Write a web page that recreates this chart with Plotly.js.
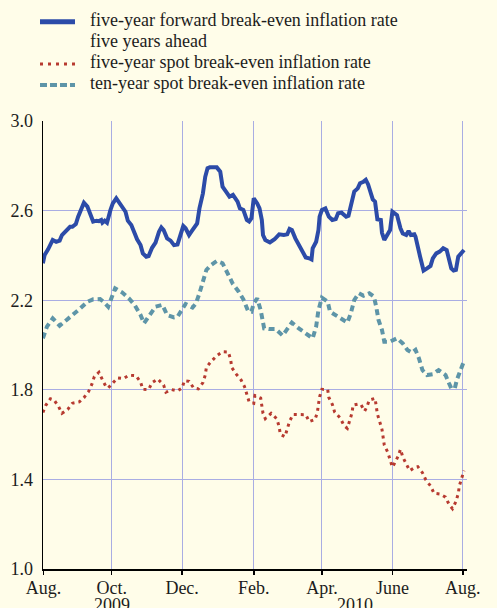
<!DOCTYPE html>
<html>
<head>
<meta charset="utf-8">
<script src="https://cdn.plot.ly/plotly-3.0.1.min.js"></script>
<style>
  html, body { margin: 0; padding: 0; background: #FFFDE9; }
  #chart { width: 497px; height: 608px; }
</style>
</head>
<body>
<div id="chart"></div>
<script>
// ---- series names ----
const seriesNames = [
  'five-year forward break-even inflation rate',
  'five years ahead',
  'five-year spot break-even inflation rate',
  'ten-year spot break-even inflation rate'
];

// ---- x-axis ticks ----
const tickDates = ['2009-08-03', '2009-10-01', '2009-12-01', '2010-02-01', '2010-04-01', '2010-06-01', '2010-08-01'];
const tickLabels = ['Aug.', 'Oct.', 'Dec.', 'Feb.', 'Apr.', 'June', 'Aug.'];
const yearDates = ['2009-10-01', '2010-04-30'];
const yearLabels = ['2009', '2010'];

// ---- y-axis ticks ----
const yTickVals = [1.0, 1.4, 1.8, 2.2, 2.6, 3.0];
const yTickText = ['1.0', '1.4', '1.8', '2.2', '2.6', '3.0'];

// ---- five-year forward five years ahead ----
const fwdDates = [
  '2009-08-02 12:00','2009-08-04','2009-08-07','2009-08-11','2009-08-14','2009-08-17','2009-08-19','2009-08-23','2009-08-26','2009-08-28','2009-08-31',
  '2009-09-02','2009-09-04','2009-09-07','2009-09-10','2009-09-12','2009-09-15','2009-09-18','2009-09-20','2009-09-22','2009-09-23','2009-09-25','2009-09-27','2009-09-30',
  '2009-10-02','2009-10-05','2009-10-07','2009-10-10','2009-10-13','2009-10-15','2009-10-18','2009-10-21','2009-10-23','2009-10-26','2009-10-28','2009-10-31',
  '2009-11-02','2009-11-05','2009-11-08','2009-11-11','2009-11-13','2009-11-15','2009-11-18','2009-11-21','2009-11-24','2009-11-27','2009-11-29',
  '2009-12-02','2009-12-04','2009-12-07','2009-12-09','2009-12-12','2009-12-14','2009-12-16','2009-12-19','2009-12-21','2009-12-23','2009-12-25','2009-12-28','2009-12-31',
  '2010-01-03','2010-01-05','2010-01-08','2010-01-11','2010-01-14','2010-01-18','2010-01-20','2010-01-23','2010-01-26','2010-01-28','2010-01-30',
  '2010-02-01','2010-02-04','2010-02-06','2010-02-08','2010-02-09','2010-02-11','2010-02-15','2010-02-19','2010-02-23','2010-02-27',
  '2010-03-02','2010-03-04','2010-03-06','2010-03-09','2010-03-13','2010-03-16','2010-03-18','2010-03-21','2010-03-23','2010-03-24','2010-03-27','2010-03-29','2010-03-30',
  '2010-04-01','2010-04-04','2010-04-07','2010-04-10','2010-04-13','2010-04-15','2010-04-18','2010-04-20','2010-04-22','2010-04-24','2010-04-27','2010-04-29',
  '2010-05-02','2010-05-04','2010-05-07','2010-05-09','2010-05-11','2010-05-13','2010-05-15','2010-05-17','2010-05-19','2010-05-22','2010-05-23','2010-05-25','2010-05-28','2010-05-30',
  '2010-06-01','2010-06-03','2010-06-05','2010-06-08','2010-06-10','2010-06-13','2010-06-15','2010-06-17','2010-06-20','2010-06-21','2010-06-23','2010-06-25','2010-06-27','2010-06-28',
  '2010-07-01','2010-07-04','2010-07-06','2010-07-09','2010-07-12','2010-07-15','2010-07-18','2010-07-20','2010-07-22','2010-07-24','2010-07-26','2010-07-28','2010-07-30',
  '2010-08-02'
];
const fwdVals = [
  2.365,2.402,2.427,2.469,2.461,2.466,2.491,2.513,2.528,2.528,2.540,
  2.573,2.595,2.635,2.618,2.595,2.551,2.555,2.553,2.558,2.546,2.555,2.546,2.603,
  2.632,2.655,2.640,2.618,2.595,2.555,2.536,2.498,2.472,2.446,2.409,2.394,
  2.397,2.434,2.457,2.506,2.525,2.513,2.476,2.466,2.446,2.449,2.484,
  2.531,2.521,2.491,2.506,2.525,2.543,2.610,2.677,2.751,2.789,2.793,2.792,2.793,
  2.774,2.707,2.685,2.662,2.670,2.640,2.610,2.603,2.558,2.551,2.566,
  2.655,2.632,2.610,2.558,2.491,2.469,2.458,2.472,2.494,2.491,
  2.494,2.518,2.513,2.476,2.439,2.417,2.391,2.387,2.382,2.432,2.461,2.513,2.573,
  2.603,2.610,2.573,2.558,2.562,2.588,2.591,2.580,2.573,2.577,2.647,2.685,
  2.699,2.722,2.729,2.737,2.717,2.685,2.650,2.640,2.561,2.558,2.501,2.469,2.491,2.513,
  2.595,2.585,2.580,2.521,2.498,2.491,2.509,2.491,2.494,2.484,2.427,2.394,2.353,2.332,
  2.342,2.353,2.387,2.409,2.417,2.432,2.424,2.379,2.342,2.332,2.335,2.394,2.406,
  2.424
];

// ---- five-year spot ----
const spot5Dates = [
  '2009-08-02 12:00','2009-08-05','2009-08-09','2009-08-12','2009-08-16','2009-08-19','2009-08-24','2009-08-28',
  '2009-09-03','2009-09-07','2009-09-11','2009-09-14','2009-09-16','2009-09-20','2009-09-23','2009-09-26','2009-09-28',
  '2009-10-03','2009-10-06','2009-10-11','2009-10-16','2009-10-22','2009-10-26','2009-10-28',
  '2009-11-02','2009-11-05','2009-11-10','2009-11-15','2009-11-17','2009-11-22','2009-11-27',
  '2009-12-01','2009-12-03','2009-12-07','2009-12-11','2009-12-15','2009-12-19','2009-12-21','2009-12-22','2009-12-26','2009-12-31',
  '2010-01-05','2010-01-10','2010-01-12','2010-01-13','2010-01-17','2010-01-21','2010-01-24','2010-01-26','2010-01-28',
  '2010-02-01','2010-02-02','2010-02-07','2010-02-08','2010-02-09','2010-02-11','2010-02-16','2010-02-21','2010-02-23','2010-02-24','2010-02-28',
  '2010-03-02','2010-03-04','2010-03-07','2010-03-13','2010-03-18','2010-03-21','2010-03-26','2010-03-28','2010-03-29','2010-03-30',
  '2010-04-01','2010-04-06','2010-04-07','2010-04-10','2010-04-12','2010-04-17','2010-04-20','2010-04-23','2010-04-25','2010-04-27','2010-04-28',
  '2010-05-03','2010-05-05','2010-05-08','2010-05-10','2010-05-12','2010-05-17','2010-05-18','2010-05-19','2010-05-21','2010-05-23','2010-05-24','2010-05-25','2010-05-28','2010-05-30',
  '2010-06-01','2010-06-03','2010-06-06','2010-06-08','2010-06-10','2010-06-13','2010-06-16','2010-06-20','2010-06-23','2010-06-27','2010-06-30',
  '2010-07-04','2010-07-07','2010-07-12','2010-07-17','2010-07-20','2010-07-23','2010-07-26','2010-07-28','2010-07-29','2010-07-31',
  '2010-08-02'
];
const spot5Vals = [
  1.699,1.731,1.760,1.756,1.726,1.695,1.713,1.740,
  1.746,1.765,1.792,1.826,1.859,1.878,1.845,1.815,1.808,
  1.835,1.853,1.850,1.865,1.863,1.835,1.802,
  1.801,1.832,1.848,1.821,1.789,1.801,1.795,
  1.808,1.841,1.838,1.808,1.804,1.832,1.865,1.900,1.926,1.952,
  1.970,1.969,1.934,1.899,1.869,1.844,1.814,1.780,1.746,
  1.740,1.774,1.763,1.729,1.695,1.671,1.695,1.670,1.635,1.601,1.591,
  1.625,1.659,1.690,1.690,1.689,1.658,1.667,1.698,1.732,1.769,
  1.802,1.801,1.766,1.735,1.701,1.673,1.641,1.628,1.662,1.696,1.732,
  1.737,1.732,1.705,1.725,1.754,1.762,1.728,1.692,1.658,1.623,1.588,1.553,1.521,1.491,
  1.455,1.473,1.504,1.534,1.500,1.469,1.439,1.452,1.457,1.430,1.397,
  1.371,1.338,1.335,1.321,1.289,1.269,1.301,1.336,1.372,1.406,
  1.439
];

// ---- ten-year spot ----
const spot10Dates = [
  '2009-08-02 12:00','2009-08-06','2009-08-11','2009-08-17','2009-08-23','2009-08-29',
  '2009-09-04','2009-09-10','2009-09-15','2009-09-21','2009-09-24','2009-09-28',
  '2009-10-01','2009-10-04','2009-10-10','2009-10-16','2009-10-21','2009-10-26','2009-10-29',
  '2009-11-03','2009-11-08','2009-11-14','2009-11-18','2009-11-24','2009-11-27',
  '2009-12-01','2009-12-04','2009-12-10','2009-12-13','2009-12-16','2009-12-19','2009-12-22','2009-12-26','2009-12-31',
  '2010-01-05','2010-01-09','2010-01-14','2010-01-19','2010-01-23','2010-01-27','2010-01-30',
  '2010-02-01','2010-02-04','2010-02-07','2010-02-10','2010-02-14','2010-02-20','2010-02-26',
  '2010-03-02','2010-03-06','2010-03-12','2010-03-18','2010-03-24','2010-03-27','2010-03-29',
  '2010-04-01','2010-04-06','2010-04-08','2010-04-13','2010-04-17','2010-04-23','2010-04-26','2010-04-29',
  '2010-05-03','2010-05-07','2010-05-12','2010-05-16','2010-05-18','2010-05-20','2010-05-23','2010-05-25','2010-05-30',
  '2010-06-05','2010-06-10','2010-06-14','2010-06-18','2010-06-21','2010-06-24','2010-06-27',
  '2010-07-01','2010-07-06','2010-07-11','2010-07-17','2010-07-20','2010-07-22','2010-07-25','2010-07-27','2010-07-30',
  '2010-08-02'
];
const spot10Vals = [
  2.030,2.082,2.119,2.086,2.112,2.137,
  2.164,2.193,2.204,2.205,2.193,2.171,
  2.216,2.253,2.235,2.208,2.178,2.134,2.097,
  2.134,2.171,2.179,2.134,2.123,2.126,
  2.159,2.183,2.167,2.186,2.231,2.283,2.335,2.357,2.375,
  2.365,2.320,2.272,2.238,2.204,2.153,2.149,
  2.186,2.208,2.156,2.074,2.071,2.071,2.042,
  2.074,2.100,2.074,2.052,2.030,2.082,2.156,
  2.211,2.193,2.149,2.131,2.119,2.100,2.141,2.201,
  2.231,2.220,2.231,2.216,2.171,2.112,2.067,2.015,2.015,
  2.030,2.007,1.978,1.966,1.978,1.940,1.888,
  1.866,1.870,1.888,1.866,1.829,1.807,1.807,1.847,1.888,
  1.928
];

const BG = '#FFFDE9';
const GRID = '#A9ADE3';
const BLUE = '#2C4BA8';
const RED = '#B73A30';
const TEAL = '#5E95A8';
const FONT = 'Liberation Serif, Times New Roman, serif';
const TXT = '#1c1c1c';

const traces = [
  { x: spot10Dates, y: spot10Vals, type: 'scatter', mode: 'lines', name: seriesNames[3],
    line: { color: TEAL, width: 4, dash: '6px,4px' }, showlegend: false, hoverinfo: 'skip' },
  { x: spot5Dates, y: spot5Vals, type: 'scatter', mode: 'lines', name: seriesNames[2],
    line: { color: RED, width: 3, dash: '3px,4px' }, showlegend: false, hoverinfo: 'skip' },
  { x: fwdDates, y: fwdVals, type: 'scatter', mode: 'lines', name: seriesNames[0],
    line: { color: BLUE, width: 4 }, showlegend: false, hoverinfo: 'skip' }
];

// plot area: x 43..467 px, y 121..569 px
const L = 43, R = 467, T = 121, B = 569;
const px = v => (v - L) / (R - L);
const py = v => (B - v) / (B - T);

const legendShapes = [
  { type: 'line', xref: 'paper', yref: 'paper', x0: px(40), x1: px(75), y0: py(21.7), y1: py(21.7),
    line: { color: BLUE, width: 5 } },
  { type: 'line', xref: 'paper', yref: 'paper', x0: px(40), x1: px(76), y0: py(64), y1: py(64),
    line: { color: RED, width: 3, dash: '3px,5px' } },
  { type: 'line', xref: 'paper', yref: 'paper', x0: px(40), x1: px(75), y0: py(85), y1: py(85),
    line: { color: TEAL, width: 4, dash: '7px,3px' } }
];

const legendY = [19.7, 40.7, 61.7, 82.7];
const annotations = seriesNames.map((t, i) => ({
  text: t, xref: 'paper', yref: 'paper', x: px(88), y: py(legendY[i]),
  xanchor: 'left', yanchor: 'middle', showarrow: false,
  font: { family: FONT, size: 18, color: TXT }
}));
yearLabels.forEach((t, i) => annotations.push({
  text: t, xref: 'x', yref: 'paper', x: yearDates[i], y: py(593),
  xanchor: 'center', yanchor: 'top', showarrow: false,
  font: { family: FONT, size: 18, color: TXT }
}));

const layout = {
  width: 497, height: 608,
  margin: { l: L, r: 497 - R, t: T, b: 608 - B, pad: 0 },
  paper_bgcolor: BG, plot_bgcolor: BG,
  showlegend: false,
  font: { family: FONT, size: 18, color: TXT },
  xaxis: {
    type: 'date', range: ['2009-08-02 14:00', '2010-08-04 14:00'],
    tickmode: 'array', tickvals: tickDates, ticktext: tickLabels,
    showgrid: true, gridcolor: GRID, gridwidth: 1,
    showline: true, linecolor: '#000', linewidth: 1.5,
    ticks: 'outside', ticklen: 4, tickwidth: 1.5, tickcolor: '#000',
    ticklabelstandoff: -2,
    tickfont: { family: FONT, size: 18, color: TXT },
    zeroline: false, fixedrange: true
  },
  yaxis: {
    range: [1, 3], tickmode: 'array', tickvals: yTickVals, ticktext: yTickText,
    showgrid: true, gridcolor: GRID, gridwidth: 1,
    showline: true, linecolor: '#000', linewidth: 1.5,
    ticks: '', ticklabelstandoff: 5,
    tickfont: { family: FONT, size: 18, color: TXT },
    zeroline: false, fixedrange: true
  },
  yaxis2: {
    overlaying: 'y', side: 'right', range: [1, 3],
    tickmode: 'array', tickvals: yTickVals, ticktext: yTickText,
    showgrid: false, showline: true, linecolor: '#000', linewidth: 1.5,
    ticks: '', ticklabelstandoff: 5,
    tickfont: { family: FONT, size: 18, color: TXT },
    zeroline: false, fixedrange: true
  },
  shapes: legendShapes,
  annotations: annotations
};

Plotly.newPlot('chart', traces, layout, { staticPlot: true, displayModeBar: false });
</script>
</body>
</html>
